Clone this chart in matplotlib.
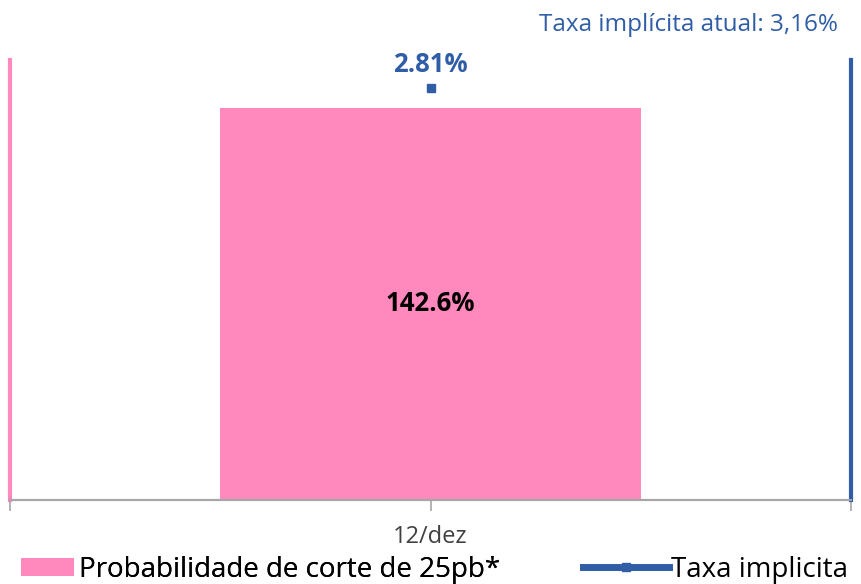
import matplotlib.pyplot as plt
from matplotlib.patches import Patch
from matplotlib.lines import Line2D

# -----------------------------
# DATA
# -----------------------------
categories = ["12/dez"]
prob_corte = [142.6]       # % probability of 25bp cut (left axis)
taxa_implicita = [2.81]    # implied rate (right axis)
taxa_atual_label = "Taxa implícita atual: 3,16%"
legend_labels = ["Probabilidade de corte de 25pb*", "Taxa implicita"]

PINK = "#FF88BC"
BLUE = "#2F5DA6"
GRAY = "#A6A6A6"

plt.rcParams["font.family"] = ["Open Sans", "DejaVu Sans"]

fig = plt.figure(figsize=(8.61, 5.84), dpi=100)
ax = fig.add_axes([10 / 861, 84 / 584, 841 / 861, 440 / 584])
ax2 = ax.twinx()

x = list(range(len(categories)))
ax.bar(x, prob_corte, width=0.5, color=PINK, zorder=2)
for xi, v in zip(x, prob_corte):
    ax.text(xi, v / 2, f"{v:.1f}%", ha="center", va="center",
            fontsize=18.5, fontweight="bold", color="black")

ax2.plot(x, taxa_implicita, color=BLUE, marker="s", markersize=6,
         linestyle="-", linewidth=3)
for xi, v in zip(x, taxa_implicita):
    ax2.annotate(f"{v:.2f}%", (xi, v), xytext=(0, 7), textcoords="offset points",
                 ha="center", va="bottom", fontsize=18.5, fontweight="bold", color=BLUE)

ax.set_xlim(-0.5, len(categories) - 0.5)
ax.set_ylim(0, 160)
ax2.set_ylim(0, 3)

ax.set_xticks([-0.5, 0, 0.5])
ax.set_xticklabels(["", categories[0], ""], fontsize=17, color="#404040")
ax.tick_params(axis="x", length=8, width=1.2, color=GRAY, pad=10)
ax.set_yticks([])
ax2.set_yticks([])

for a in (ax, ax2):
    a.spines["top"].set_visible(False)
    a.spines["bottom"].set_color(GRAY)
    a.spines["bottom"].set_linewidth(1.5)
ax.spines["left"].set_color(PINK)
ax.spines["left"].set_linewidth(3)
ax.spines["right"].set_visible(False)
ax2.spines["left"].set_visible(False)
ax2.spines["right"].set_color(BLUE)
ax2.spines["right"].set_linewidth(3)

fig.text(838 / 861, 1 - 25 / 584, taxa_atual_label, ha="right", va="center",
         fontsize=17.5, color=BLUE)

leg1 = fig.legend([Patch(facecolor=PINK, edgecolor="none")], [legend_labels[0]],
                  loc="center left", bbox_to_anchor=(21 / 861, 14 / 584),
                  frameon=False, fontsize=20, handlelength=1.9, handleheight=0.6,
                  handletextpad=0.18, borderpad=0, borderaxespad=0)
fig.add_artist(leg1)
fig.legend([Line2D([0], [0], color=BLUE, linewidth=5, marker="s", markersize=6)],
           [legend_labels[1]],
           loc="center left", bbox_to_anchor=(583 / 861, 14 / 584),
           frameon=False, fontsize=20, handlelength=3.1,
           handletextpad=0.07, borderpad=0, borderaxespad=0)

fig.savefig("out.png", dpi=100)
